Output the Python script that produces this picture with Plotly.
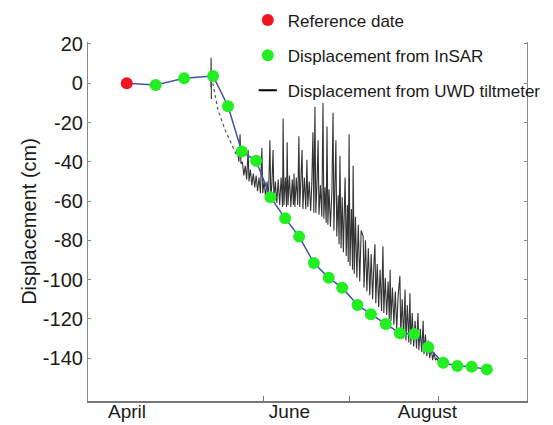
import pandas as pd
import plotly.graph_objects as go

# ---------------- data ----------------
ref_date = ["2017-04-14 12:00"]
ref_cm = [0.0]

insar_dates = [
    "2017-04-24 14:00", "2017-05-04 12:00", "2017-05-14 14:00", "2017-05-19 19:00",
    "2017-05-24 14:00", "2017-05-29 14:00", "2017-06-03 14:00", "2017-06-08 17:00",
    "2017-06-13 14:00", "2017-06-18 17:00", "2017-06-23 22:00", "2017-06-28 14:00",
    "2017-07-03 22:00", "2017-07-08 14:00", "2017-07-13 19:00", "2017-07-18 17:00",
    "2017-07-23 17:00", "2017-07-28 14:00", "2017-08-02 19:00", "2017-08-07 17:00",
    "2017-08-12 17:00", "2017-08-18 00:00",
]
insar_cm = [-0.9, 2.5, 3.7, -11.7, -34.8, -39.5, -58.0, -68.8, -78.1, -91.5, -99.1,
            -104.1, -112.9, -117.6, -122.6, -127.3, -127.7, -134.4, -142.3, -144.0,
            -144.4, -145.7]

# tiltmeter: days since 1 April
tilt_start = "2017-04-01"
tilt_gap_day = [43.5, 45.3, 47.8, 50.1, 51.6]
tilt_gap_cm = [0.0, -13.6, -23.8, -31.4, -36.0]

tilt_day = [
    42.8, 42.9, 43.0, None,
    51.6, 52.1, 52.6, 53.0, 53.3, 53.8, 54.3, 54.8, 55.3, 55.8, 56.1, 56.6, 57.1, 57.6,
    58.1, 58.6, 59.1, 59.6, 60.1, 60.6, 60.9, 61.4, 61.9, 62.4, 62.9, 63.4, 63.7, 64.1,
    64.5, 64.8, 65.3, 65.8, 66.3, 66.8, 67.3, 67.8, 68.0, 68.3, 68.8, 69.2, 69.4, 69.7,
    70.2, 70.7, 71.2, 71.6, 71.8, 72.1, 72.6, 73.1, 73.5, 73.8, 74.2, 74.6, 74.9, 75.4,
    75.9, 76.3, 76.6, 77.1, 77.6, 78.0, 78.4, 78.7, 79.1, 79.4, 79.8, 80.2, 80.5, 81.0,
    81.5, 81.9, 82.2, 82.6, 83.0, 83.3, 83.6, 84.0, 84.5, 85.0, 85.4, 85.7, 86.0, 86.4,
    86.7, 87.2, 87.5, 87.8, 88.2, 88.6, 89.0, 89.4, 89.6, 90.0, 90.4, 90.7, 91.0, 91.3,
    91.8, 92.2, 92.4, 92.8, 93.2, 93.7, 94.2, 94.7, 95.2, 95.9, 96.2, 96.7, 97.2, 97.7,
    98.2, 98.7, 99.2, 99.7, 100.0, 100.3, 100.8, 101.3, 101.8, 102.3, 102.8, 103.1,
    103.6, 104.1, 104.6, 105.0, 105.3, 105.6, 106.1, 106.6, 107.1, 107.6, 108.1, 108.7,
    109.0, 109.5, 110.0, 110.5, 110.8, 111.3, 111.8, 112.2, 112.5, 113.0, 113.5, 114.0,
    114.5, 115.0, 115.3, 115.8, 116.3, 116.8, 117.1, 117.6, 118.1, 118.6, 119.1, 119.6,
    120.1, 120.6, 121.1, 121.6, 122.2, 122.8,
]
tilt_cm = [
    -2, 13, -8, None,
    -36, -34, -40, -26, -41, -40, -47, -42, -49, -34, -50, -44, -52, -46,
    -53, -47, -55, -48, -56, -33, -56, -50, -58, -50, -59, -29, -59, -51,
    -34, -60, -50, -61, -49, -62, -48, -63, -18, -62, -48, -63, -30, -62,
    -47, -63, -49, -62, -46, -63, -48, -62, -27, -63, -49, -34, -64, -48,
    -64, -39, -63, -50, -65, -51, -25, -66, -12, -66, -51, -29, -67, -52,
    -68, -10, -69, -53, -71, -22, -72, -54, -73, -55, -15, -75, -56, -29,
    -78, -57, -82, -37, -84, -58, -86, -60, -48, -88, -62, -91, -26, -93,
    -64, -95, -42, -97, -68, -99, -72, -101, -75, -78, -104, -80, -106, -84,
    -108, -87, -110, -90, -82, -112, -92, -114, -95, -116, -83, -117,
    -99, -118, -101, -120, -95, -121, -104, -123, -106, -125, -108, -98,
    -128, -110, -130, -105, -131, -113, -132, -107, -133, -117, -134, -121,
    -135, -117, -136, -125, -137, -121, -138, -128, -139, -131, -140, -134,
    -141, -137, -141, -140, -142, -141,
]

month_labels = ["April", "June", "August"]
month_label_pos = ["2017-04-14 14:00", "2017-06-10 05:00", "2017-07-28 07:00"]
month_ticks = ["2017-06-01", "2017-07-01", "2017-08-01"]
y_ticks = [20, 0, -20, -40, -60, -80, -100, -120, -140]
y_tick_labels = ["20", "0", "-20", "-40", "-60", "-80", "-100", "-120", "-140"]

# ---------------- build ----------------
t0 = pd.Timestamp(tilt_start)
def to_dates(days):
    return [None if d is None else t0 + pd.Timedelta(days=d) for d in days]

FONT = "Arial, Liberation Sans, sans-serif"
fig = go.Figure()

fig.add_trace(go.Scatter(
    x=to_dates(tilt_gap_day), y=tilt_gap_cm, mode="lines",
    line=dict(color="rgba(40,40,40,0.8)", width=1.2, dash="dot"),
    showlegend=False, hoverinfo="skip"))

fig.add_trace(go.Scatter(
    x=to_dates(tilt_day), y=tilt_cm, mode="lines",
    line=dict(color="rgba(0,0,0,0.8)", width=1.1),
    showlegend=False, connectgaps=False))

fig.add_trace(go.Scatter(
    x=ref_date + insar_dates, y=ref_cm + insar_cm, mode="lines",
    line=dict(color="#4352a8", width=1.5),
    showlegend=False, hoverinfo="skip"))

fig.add_trace(go.Scatter(
    x=ref_date, y=ref_cm, mode="markers", name="Reference date",
    marker=dict(color="#f0141e", size=12), legendgroup="a"))

fig.add_trace(go.Scatter(
    x=insar_dates, y=insar_cm, mode="markers", name="Displacement from InSAR",
    marker=dict(color="#22ee22", size=12), legendgroup="b"))

fig.add_trace(go.Scatter(
    x=[None], y=[None], mode="markers", name="Displacement from UWD tiltmeter",
    marker=dict(symbol="line-ew", size=13, line=dict(color="black", width=2)),
    legendgroup="c"))

# page body adds an 8px offset, so the figure is 8px smaller than the window
fig.update_layout(
    width=545, height=417,
    margin=dict(l=80, r=26, t=34, b=24, autoexpand=False),
    paper_bgcolor="white", plot_bgcolor="white",
    font=dict(family=FONT, color="#1a1a1a", size=20),
    showlegend=True,
    legend=dict(x=0.364, xanchor="left", y=1.11, yanchor="top",
                font=dict(size=17, family=FONT, color="#1a1a1a"),
                bgcolor="rgba(0,0,0,0)", tracegroupgap=10, traceorder="grouped",
                itemwidth=30),
    xaxis=dict(
        type="date", range=["2017-04-01", "2017-09-01"],
        tickmode="array", tickvals=month_label_pos, ticktext=month_labels,
        ticks="", showgrid=False, zeroline=False, ticklabelstandoff=-8,
        showline=True, linecolor="#777777", linewidth=1.5, mirror=False,
        tickfont=dict(size=19, family=FONT, color="#1a1a1a"),
        minor=dict(tickmode="array", tickvals=month_ticks, ticks="inside",
                   ticklen=5, tickcolor="#777777", showgrid=False),
    ),
    yaxis=dict(
        range=[-161.8, 21.0], tickmode="array", tickvals=y_ticks, ticktext=y_tick_labels,
        ticks="inside", ticklen=3, tickcolor="#888888",
        showgrid=False, zeroline=False,
        showline=True, linecolor="#8a8a8a", linewidth=1.2, mirror="ticks",
        tickfont=dict(size=20, family=FONT, color="#1a1a1a"),
        title=dict(text="Displacement (cm)", font=dict(size=20, family=FONT, color="#1a1a1a"),
                   standoff=0),
    ),
)

fig.write_html("out.html")
